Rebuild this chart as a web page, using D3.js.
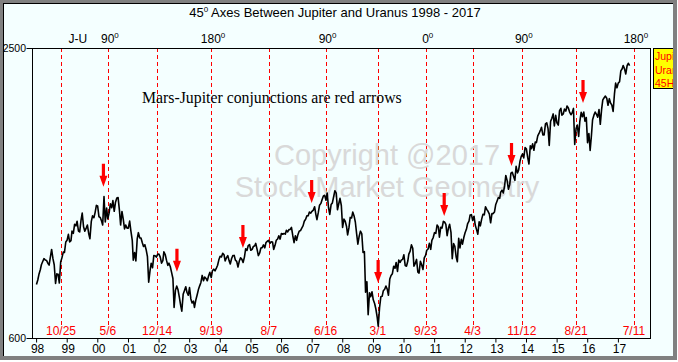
<!DOCTYPE html>
<html><head><meta charset="utf-8">
<script src="https://cdn.jsdelivr.net/npm/d3@7"></script>
<style>html,body{margin:0;padding:0;background:#fff;}svg{display:block;}</style>
</head><body><div id="chart"></div>
<script>
// ---------------- DATA ----------------
const titleText = "Axes Between Jupiter and Uranus 1998 - 2017";
const startYear = 1998;
// S&P 500 approximations: two values per month (early, late), Jan 1998 .. May 2017
const prices = [
// 1998
950,980, 1020,1049, 1080,1101, 1120,1111, 1108,1090, 1078,1133, 1180,1120, 1080,957, 1020,1017, 960,1098, 1125,1163, 1160,1229,
// 1999
1240,1279, 1230,1238, 1300,1286, 1345,1335, 1365,1301, 1295,1372, 1418,1329, 1300,1320, 1340,1282, 1250,1362, 1400,1388, 1420,1469,
// 2000
1465,1394, 1390,1366, 1340,1527, 1360,1452, 1380,1420, 1480,1454, 1500,1430, 1490,1517, 1520,1436, 1340,1429, 1380,1315, 1340,1320,
// 2001
1320,1366, 1300,1240, 1110,1160, 1105,1249, 1290,1256, 1255,1224, 1200,1211, 1180,1134, 966,1041, 1090,1060, 1140,1139, 1130,1148,
// 2002
1150,1130, 1090,1107, 1165,1147, 1110,1076, 1090,1067, 1030,990, 800,912, 940,916, 870,815, 776,886, 910,936, 900,880,
// 2003
930,856, 830,841, 800,848, 880,917, 940,964, 1010,975, 1000,990, 975,1008, 1030,996, 1040,1051, 1040,1058, 1075,1112,
// 2004
1135,1131, 1155,1145, 1105,1126, 1140,1107, 1085,1121, 1140,1141, 1110,1102, 1065,1104, 1125,1115, 1095,1130, 1185,1174, 1205,1212,
// 2005
1175,1181, 1200,1204, 1220,1181, 1140,1157, 1190,1192, 1210,1191, 1225,1234, 1240,1220, 1230,1229, 1180,1207, 1240,1249, 1270,1248,
// 2006
1285,1280, 1285,1281, 1305,1295, 1310,1311, 1325,1270, 1225,1270, 1240,1277, 1300,1304, 1320,1336, 1365,1378, 1400,1401, 1425,1418,
// 2007
1430,1438, 1460,1407, 1375,1421, 1470,1482, 1505,1531, 1535,1503, 1550,1455, 1410,1474, 1485,1527, 1565,1549, 1440,1481, 1515,1468,
// 2008
1325,1379, 1365,1331, 1275,1323, 1390,1386, 1425,1400, 1360,1280, 1215,1267, 1300,1283, 1160,1166, 900,969, 752,896, 870,903,
// 2009
850,826, 790,735, 677,798, 870,873, 910,919, 940,919, 880,987, 1010,1021, 1070,1057, 1095,1036, 1110,1096, 1110,1115,
// 2010
1145,1074, 1070,1104, 1150,1169, 1210,1187, 1070,1089, 1115,1031, 1025,1102, 1080,1049, 1125,1141, 1175,1183, 1220,1181, 1240,1258,
// 2011
1290,1286, 1340,1327, 1260,1326, 1320,1364, 1360,1345, 1270,1321, 1345,1292, 1120,1219, 1200,1131, 1100,1253, 1190,1247, 1215,1258,
// 2012
1290,1312, 1350,1366, 1405,1408, 1370,1398, 1340,1310, 1280,1362, 1335,1379, 1410,1407, 1460,1441, 1430,1412, 1355,1416, 1415,1426,
// 2013
1475,1498, 1520,1515, 1555,1569, 1550,1598, 1665,1631, 1575,1606, 1680,1686, 1660,1633, 1725,1682, 1700,1757, 1790,1806, 1780,1848,
// 2014
1840,1783, 1740,1859, 1840,1872, 1830,1884, 1880,1924, 1940,1960, 1980,1931, 1930,2003, 2010,1972, 1862,2018, 2040,2068, 1990,2059,
// 2015
2010,1995, 2090,2105, 2060,2068, 2100,2086, 2120,2107, 2080,2063, 2075,2104, 1868,1972, 1995,1920, 2020,2079, 2050,2080, 2020,2044,
// 2016
1880,1940, 1829,1932, 2030,2060, 2080,2065, 2047,2097, 2000,2099, 2160,2174, 2185,2171, 2125,2168, 2140,2126, 2085,2199, 2270,2239,
// 2017
2270,2279, 2350,2364, 2385,2363, 2330,2384, 2400,2385
];
// red dashed date lines and their labels
const lineDates = ["1998-10-25","2000-05-06","2001-12-14","2003-09-19","2005-08-07","2007-06-16","2009-03-01","2010-09-23","2012-04-03","2013-11-12","2015-08-21","2017-07-11"];
const lineLabels = ["10/25","5/6","12/14","9/19","8/7","6/16","3/1","9/23","4/3","11/12","8/21","7/11"];
// top angle labels
const topDates = ["1999-04-20","2000-05-06","2003-09-19","2007-06-16","2010-09-23","2013-11-12","2017-07-11"];
const topNums = ["J-U","90","180","90","0","90","180"];
const topDeg = [false,true,true,true,true,true,true];
// Mars-Jupiter conjunction arrows (date, tip price)
const arrowDates = ["2000-03-14","2002-08-08","2004-10-03","2007-01-01","2009-03-04","2011-05-01","2013-07-12","2015-11-12"];
const arrowTips = [1591,1034,1190,1484,960,1399,1727,2140];
const yTicks = [600,2500];
const yearFirst = 1998, yearLast = 2017;
const legendLines = ["Jupi","Uran","45H"];

// ---------------- CHART ----------------
const W = 678, H = 362;
const L = 32, R = 650, T = 48, B = 338;
const bg = "#F4FFFF";
const font = "Arial, 'Liberation Sans', sans-serif";
const parse = d3.timeParse("%Y-%m-%d");

const svg = d3.select("#chart").append("svg").attr("width", W).attr("height", H);
svg.append("rect").attr("width", W).attr("height", H).attr("fill", "#fff");
svg.append("rect").attr("x",0).attr("y",0).attr("width",677).attr("height",360).attr("fill","#808080");
svg.append("rect").attr("x",3).attr("y",3).attr("width",670).attr("height",353).attr("fill","#000");
svg.append("rect").attr("x",4).attr("y",4).attr("width",669).attr("height",352).attr("fill",bg);

const x = d3.scaleTime().domain([new Date(1997,10,13), new Date(2018,0,19)]).range([L, R]);
const y = d3.scaleLinear().domain([600, 2500]).range([B, T]);

const priceData = prices.map((v,i) => ({
  date: new Date(startYear + Math.floor(i/24), Math.floor((i%24)/2), (i%2) ? 21 : 5),
  value: v
}));

// title
const title = svg.append("text").attr("x", 335).attr("y", 17).attr("text-anchor","middle")
  .attr("font-family", font).attr("font-size", 13).attr("fill","#000");
title.append("tspan").text("45");
title.append("tspan").attr("dy",-5).attr("font-size",8).text("0");
title.append("tspan").attr("dy",5).text(" " + titleText);

// top labels
topDates.forEach((d,i) => {
  const t = svg.append("text").attr("x", x(parse(d)) + 2).attr("y", 43).attr("text-anchor","middle")
    .attr("font-family", font).attr("font-size", 12).attr("fill","#000");
  t.append("tspan").text(topNums[i]);
  if (topDeg[i]) t.append("tspan").attr("dy",-5).attr("font-size",8).text("0");
});

// clip for plot
svg.append("clipPath").attr("id","plotclip").append("rect").attr("x",L).attr("y",T).attr("width",R-L).attr("height",B-T);

// red dashed lines
svg.append("g").selectAll("line").data(lineDates).join("line")
  .attr("x1", d => Math.round(x(parse(d))) + 0.5).attr("x2", d => Math.round(x(parse(d))) + 0.5)
  .attr("y1", T).attr("y2", 326)
  .attr("stroke","#f00").attr("stroke-width",1).attr("stroke-dasharray","4,3");

svg.append("g").selectAll("text").data(lineDates).join("text")
  .attr("x", d => x(parse(d))).attr("y", 335).attr("text-anchor","middle")
  .attr("font-family", font).attr("font-size", 12).attr("fill","#f00")
  .text((d,i) => lineLabels[i]);

// watermark
const wm = svg.append("g").attr("font-family", font).attr("font-size", 29).attr("fill","#d9d9d9").attr("text-anchor","middle");
wm.append("text").attr("x",387).attr("y",165).text("Copyright @2017");
wm.append("text").attr("x",387).attr("y",197).text("Stock Market Geometry");

// annotation
svg.append("text").attr("x",142).attr("y",103).attr("font-family","'Times New Roman', 'Liberation Serif', serif")
  .attr("font-size",15.8).attr("fill","#000").text("Mars-Jupiter conjunctions are red arrows");

// price line
svg.append("path").datum(priceData).attr("clip-path","url(#plotclip)")
  .attr("fill","none").attr("stroke","#000").attr("stroke-width",1.6).attr("stroke-linejoin","round")
  .attr("d", d3.line().x(d => x(d.date)).y(d => y(d.value)));

// arrows
svg.append("g").selectAll("path").data(arrowDates).join("path")
  .attr("fill","#f00")
  .attr("d", (d,i) => {
    const cx = x(parse(d)), ty = y(arrowTips[i]);
    return `M${cx-1.6},${ty-23}L${cx+1.6},${ty-23}L${cx+1.6},${ty-11}L${cx+4},${ty-11}L${cx},${ty}L${cx-4},${ty-11}L${cx-1.6},${ty-11}Z`;
  });

// plot frame
svg.append("rect").attr("x",L+0.5).attr("y",T+0.5).attr("width",R-L).attr("height",B-T)
  .attr("fill","none").attr("stroke","#000").attr("stroke-width",1);

// x axis
const yearTicks = d3.range(yearFirst, yearLast + 1).map(yr => new Date(yr, 0, 1));
const xAxis = svg.append("g").attr("transform",`translate(0,${B+0.5})`)
  .call(d3.axisBottom(x).tickValues(yearTicks).tickFormat(d3.timeFormat("%y")).tickSize(4).tickPadding(2));
xAxis.select(".domain").remove();
xAxis.selectAll("text").attr("font-family", font).attr("font-size", 12).attr("fill","#000").attr("dx", 1);
xAxis.selectAll("line").attr("stroke","#000");

// y axis
const yAxis = svg.append("g").attr("transform",`translate(${L+0.5},0)`)
  .call(d3.axisLeft(y).tickValues(yTicks).tickFormat(d3.format("d")).tickSize(6).tickPadding(0.5));
yAxis.select(".domain").remove();
yAxis.selectAll("text").attr("font-family", font).attr("font-size", 10.5).attr("fill","#000");
yAxis.selectAll("line").attr("stroke","#000");

// legend box (partly hidden behind the window frame, as in the original)
svg.append("clipPath").attr("id","legclip").append("rect").attr("x",650).attr("y",40).attr("width",23).attr("height",60);
const leg = svg.append("g").attr("clip-path","url(#legclip)");
leg.append("rect").attr("x",653.5).attr("y",48.5).attr("width",40).attr("height",40).attr("fill","#ff0").attr("stroke","#000");
leg.selectAll("text").data(legendLines).join("text")
  .attr("x",655).attr("y",(d,i)=>60+i*13.5).attr("font-family",font).attr("font-size",10.5).attr("fill","#f00").text(d=>d);
</script></body></html>
